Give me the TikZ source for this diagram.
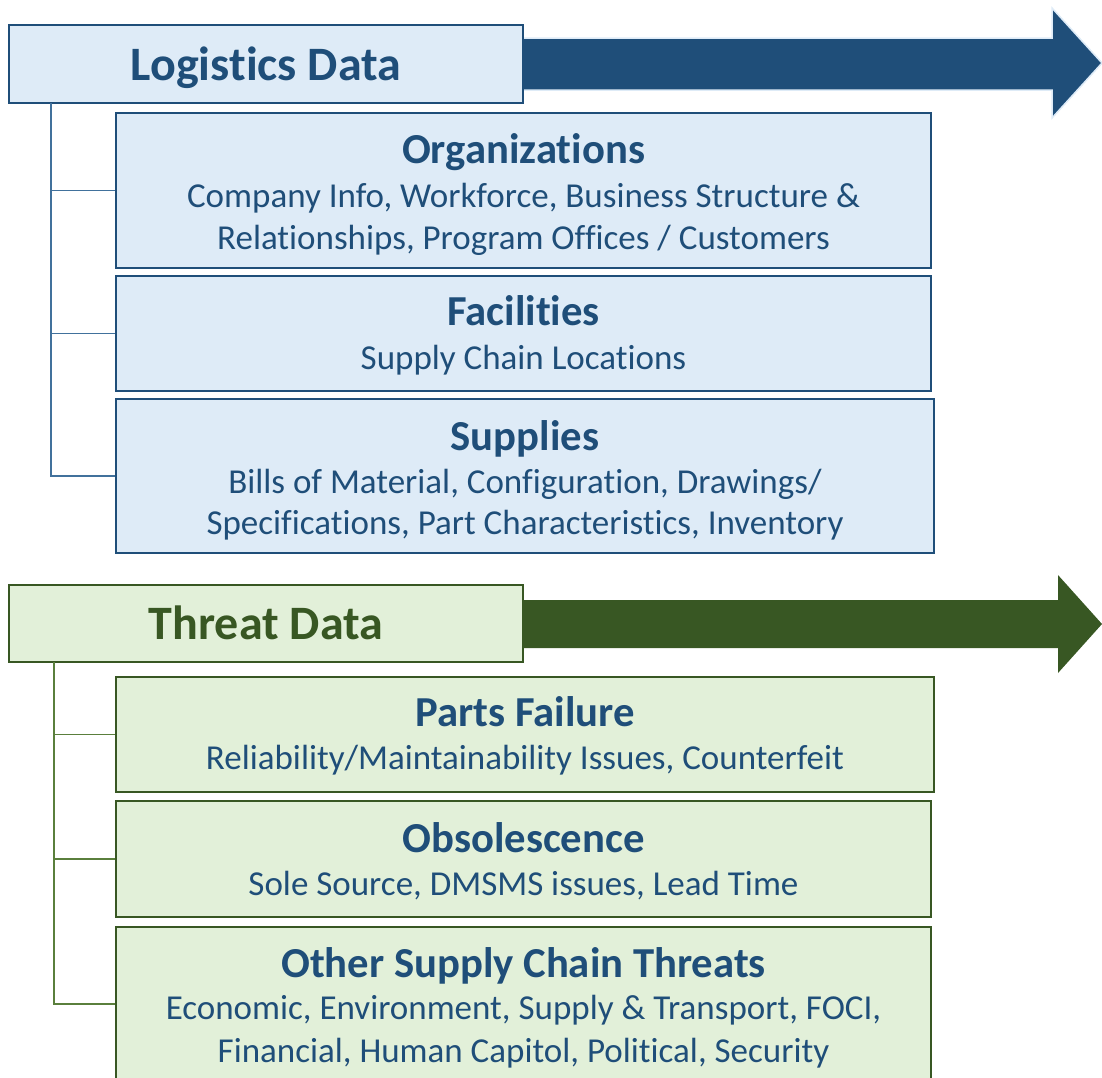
\documentclass[tikz,border=0pt]{standalone}
\usepackage{fontspec}
\setmainfont[Ligatures={NoCommon}]{Carlito}
\definecolor{bfill}{HTML}{DEEBF7}
\definecolor{bdark}{HTML}{1F4E79}
\definecolor{bline}{HTML}{41719C}
\definecolor{gfill}{HTML}{E2F0D9}
\definecolor{gdark}{HTML}{385723}
\definecolor{gline}{HTML}{5A7F3C}
\begin{document}
\begin{tikzpicture}[x=1pt,y=-1pt,
  bbox/.style={draw=bdark,fill=bfill,line width=1.6pt,inner sep=0pt},
  gbox/.style={draw=gdark,fill=gfill,line width=1.6pt,inner sep=0pt},
  maintxt/.style={font=\fontsize{48}{57}\selectfont\bfseries,anchor=base,inner sep=0pt},
  titletxt/.style={font=\fontsize{42.7}{50}\selectfont\bfseries,text=bdark,anchor=base,inner sep=0pt},
  bodytxt/.style={font=\fontsize{35}{42}\selectfont,text=bdark,anchor=base,inner sep=0pt},
  bconn/.style={draw=bline,line width=1.2pt},
  gconn/.style={draw=gline,line width=1.2pt}]
\useasboundingbox (0,0) rectangle (1102,1077);
% ---------- Logistics ----------
\path[fill=bdark,draw=bfill,line width=1.5pt]
  (500,38) -- (1052,38) -- (1052,8) -- (1102,63) -- (1052,118) -- (1052,90) -- (500,90) -- cycle;
\node[bbox,minimum width=514pt,minimum height=78pt] (ld) at (266,64) {};
\node[maintxt,text=bdark] (ldt) at (266,80) {Logistics Data};

\node[bbox,minimum width=815pt,minimum height=155pt] (org) at (523.5,190.5) {};
\node[titletxt] (orgt) at (523.5,163) {Organizations};
\node[bodytxt] (orgb1) at (523.5,207) {Company Info, Workforce, Business Structure \&};
\node[bodytxt] (orgb2) at (523.5,249) {Relationships, Program Offices / Customers};

\node[bbox,minimum width=815pt,minimum height=115pt] (fac) at (523.5,333.5) {};
\node[titletxt] (fact) at (523.5,325) {Facilities};
\node[bodytxt] (facb) at (523.5,369) {Supply Chain Locations};

\node[bbox,minimum width=818pt,minimum height=154pt] (sup) at (525,476) {};
\node[titletxt] (supt) at (525,450) {Supplies};
\node[bodytxt] (supb1) at (525,493) {Bills of Material, Configuration, Drawings/};
\node[bodytxt] (supb2) at (525,534) {Specifications, Part Characteristics, Inventory};

\coordinate (lx) at (51,103);
\draw[bconn] (lx) |- (org.west);
\draw[bconn] (lx) |- (fac.west);
\draw[bconn] (lx) |- (sup.west);

% ---------- Threat ----------
\path[fill=gdark]
  (500,600) -- (1058,600) -- (1058,575) -- (1102,624) -- (1058,673) -- (1058,648) -- (500,648) -- cycle;
\node[gbox,minimum width=514pt,minimum height=77pt] (td) at (266,623.5) {};
\node[maintxt,text=gdark] (tdt) at (266,639) {Threat Data};

\node[gbox,minimum width=818pt,minimum height=115pt] (pf) at (525,734.5) {};
\node[titletxt] (pft) at (525,726) {Parts Failure};
\node[bodytxt] (pfb) at (525,769) {Reliability/Maintainability Issues, Counterfeit};

\node[gbox,minimum width=815pt,minimum height=116pt] (ob) at (523.5,859) {};
\node[titletxt] (obt) at (523.5,852) {Obsolescence};
\node[bodytxt] (obb) at (523.5,895) {Sole Source, DMSMS issues, Lead Time};

\node[gbox,minimum width=815pt,minimum height=154pt] (ot) at (523.5,1004) {};
\node[titletxt] (ott) at (523.5,977) {Other Supply Chain Threats};
\node[bodytxt] (otb1) at (523.5,1019) {Economic, Environment, Supply \& Transport, FOCI,};
\node[bodytxt] (otb2) at (523.5,1062) {Financial, Human Capitol, Political, Security};

\coordinate (gx) at (54,662);
\draw[gconn] (gx) |- (pf.west);
\draw[gconn] (gx) |- (ob.west);
\draw[gconn] (gx) |- (ot.west);
\end{tikzpicture}
\end{document}
